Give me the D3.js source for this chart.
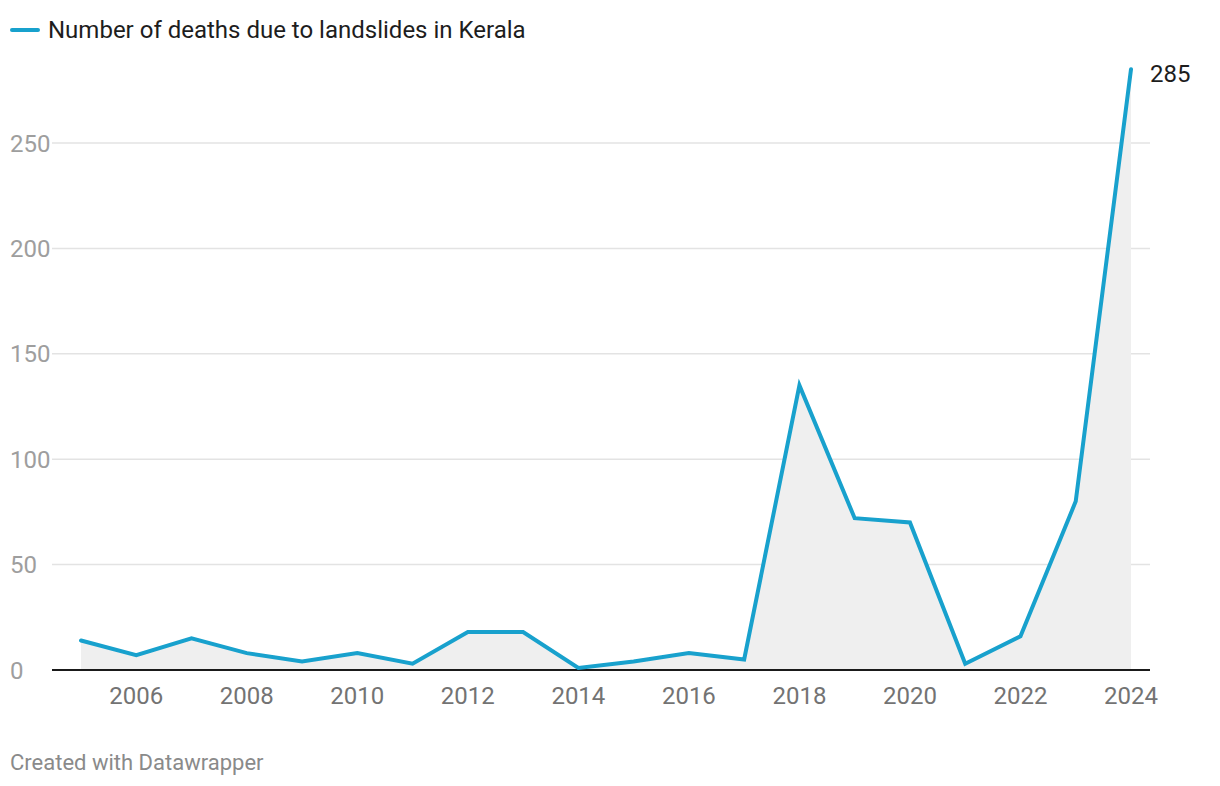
<!DOCTYPE html>
<html>
<head>
<meta charset="utf-8">
<script src="https://cdn.jsdelivr.net/npm/d3@7"></script>
<style>
  body { margin: 0; background: #fff; }
  svg text { font-family: Roboto, sans-serif; }
</style>
</head>
<body>
<svg></svg>
<script>
var years = [2005, 2006, 2007, 2008, 2009, 2010, 2011, 2012, 2013, 2014,
             2015, 2016, 2017, 2018, 2019, 2020, 2021, 2022, 2023, 2024];
var deaths = [14, 7, 15, 8, 4, 8, 3, 18, 18, 1,
              4, 8, 5, 135, 72, 70, 3, 16, 80, 285];
var yTicks = [0, 50, 100, 150, 200, 250];
var xTicks = [2006, 2008, 2010, 2012, 2014, 2016, 2018, 2020, 2022, 2024];
var seriesName = "Number of deaths due to landslides in Kerala";

var W = 1220, H = 786;
var svg = d3.select("svg").attr("width", W).attr("height", H);

var data = years.map(function (y, i) { return { year: y, v: deaths[i] }; });

var x = d3.scaleLinear().domain([2005, 2024]).range([81, 1131]);
var y = d3.scaleLinear().domain([0, 250]).range([670, 143]);

// gridlines
svg.append("g")
  .selectAll("line")
  .data(yTicks.filter(function (d) { return d > 0; }))
  .join("line")
  .attr("x1", 52).attr("x2", 1150)
  .attr("y1", function (d) { return y(d); })
  .attr("y2", function (d) { return y(d); })
  .attr("stroke", "#e3e3e3")
  .attr("stroke-width", 1.5);

// y labels
svg.append("g")
  .selectAll("text")
  .data(yTicks)
  .join("text")
  .attr("x", 10)
  .attr("y", function (d) { return y(d) + 8.5; })
  .attr("fill", "#9e9e9e")
  .style("font-size", "24px")
  .text(function (d) { return d; });

// area
var area = d3.area()
  .x(function (d) { return x(d.year); })
  .y0(y(0))
  .y1(function (d) { return y(d.v); });
svg.append("path")
  .datum(data)
  .attr("d", area)
  .attr("fill", "#efefef");

// baseline
svg.append("line")
  .attr("x1", 52).attr("x2", 1150)
  .attr("y1", y(0)).attr("y2", y(0))
  .attr("stroke", "#1a1a1a")
  .attr("stroke-width", 2);

// line
var line = d3.line()
  .x(function (d) { return x(d.year); })
  .y(function (d) { return y(d.v); });
svg.append("path")
  .datum(data)
  .attr("d", line)
  .attr("fill", "none")
  .attr("stroke", "#18a1cd")
  .attr("stroke-width", 4)
  .attr("stroke-linejoin", "miter")
  .attr("stroke-linecap", "round");

// x labels
svg.append("g")
  .selectAll("text")
  .data(xTicks)
  .join("text")
  .attr("x", function (d) { return x(d); })
  .attr("y", 704)
  .attr("text-anchor", "middle")
  .attr("fill", "#737373")
  .style("font-size", "24px")
  .text(function (d) { return d; });

// end value label
var last = data[data.length - 1];
svg.append("text")
  .attr("x", x(last.year) + 19)
  .attr("y", y(last.v) + 13)
  .attr("fill", "#1d1d1d")
  .style("font-size", "24px")
  .text(last.v);

// legend
svg.append("line")
  .attr("x1", 12).attr("x2", 38)
  .attr("y1", 30).attr("y2", 30)
  .attr("stroke", "#18a1cd")
  .attr("stroke-width", 4)
  .attr("stroke-linecap", "round");
svg.append("text")
  .attr("x", 48)
  .attr("y", 38)
  .attr("fill", "#1d1d1d")
  .style("font-size", "24px")
  .text(seriesName);

// footer
svg.append("text")
  .attr("x", 10)
  .attr("y", 770)
  .attr("fill", "#8a8a8a")
  .style("font-size", "22px")
  .text("Created with Datawrapper");
</script>
</body>
</html>
